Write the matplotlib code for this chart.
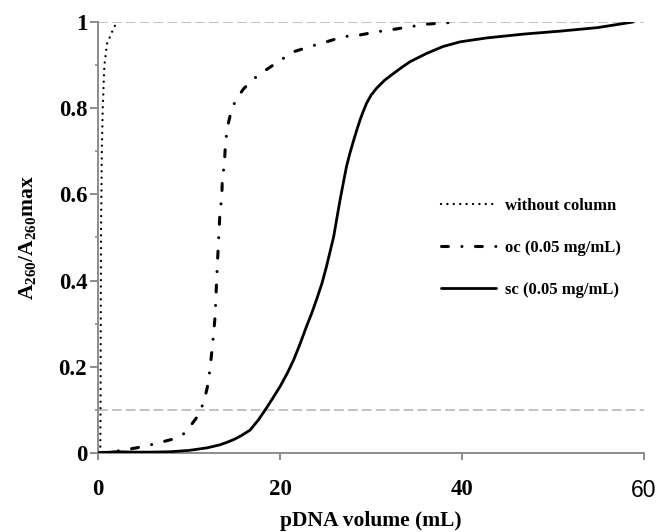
import numpy as np
import matplotlib
matplotlib.use("Agg")
import matplotlib.pyplot as plt
from matplotlib.ticker import MultipleLocator

plt.rcParams['font.family'] = ['Liberation Serif', 'DejaVu Serif']
plt.rcParams['font.weight'] = 'bold'
plt.rcParams['mathtext.fontset'] = 'custom'
plt.rcParams['mathtext.rm'] = 'Liberation Serif:bold'
plt.rcParams['mathtext.it'] = 'Liberation Serif:bold:italic'
plt.rcParams['mathtext.bf'] = 'Liberation Serif:bold'
plt.rcParams['lines.scale_dashes'] = False

# without column (dotted)
nocol_x = [0.25, 0.28, 0.33, 0.42, 0.52, 0.7, 1.0, 1.5, 2.05]
nocol_y = [0.0, 0.12, 0.51, 0.7, 0.8, 0.9, 0.95, 0.975, 1.0]

# oc (0.05 mg/mL) dash-dot
oc_x = [0, 2.0, 4.25, 6.0, 8.2, 9.56, 10.8, 11.2, 11.6, 12.0, 12.3, 12.5, 12.7, 12.86,
        13.1, 13.4, 13.6, 13.66, 13.9, 14.0, 14.2, 14.6, 15.0, 15.5, 16.0, 16.7, 17.4,
        18.2, 19.8, 21.5, 23.3, 25.1, 27.0, 28.8, 30.6, 32.5, 34.3, 36.1, 38.3, 39.5]
oc_y = [0, 0.004, 0.012, 0.02, 0.032, 0.046, 0.081, 0.098, 0.116, 0.151, 0.193, 0.234,
        0.274, 0.316, 0.43, 0.557, 0.594, 0.633, 0.675, 0.715, 0.754, 0.79, 0.812, 0.83,
        0.845, 0.86, 0.873, 0.885, 0.908, 0.931, 0.943, 0.954, 0.966, 0.97, 0.977, 0.983,
        0.989, 0.995, 0.998, 1.0]

# sc (0.05 mg/mL) solid
sc_x = [0, 2, 4, 6, 8, 10, 12, 13.4, 14.2, 15.0, 15.8, 16.7, 17.6, 18.5, 19.2, 20.0,
        20.8, 21.5, 22.2, 22.9, 23.5, 24.0, 24.6, 25.1, 25.5, 25.9, 26.25, 26.6, 26.95,
        27.3, 27.7, 28.1, 28.45, 28.8, 29.1, 29.5, 30.0, 30.6, 31.5, 32.5, 33.4, 34.3,
        36.1, 37.9, 39.8, 42.7, 46.8, 50.9, 54.9, 58.8]
sc_y = [0, 0.003, 0.002, 0.002, 0.003, 0.006, 0.012, 0.019, 0.025, 0.032, 0.041, 0.053,
        0.076, 0.104, 0.127, 0.154, 0.185, 0.216, 0.253, 0.293, 0.325, 0.355, 0.393,
        0.432, 0.467, 0.502, 0.545, 0.587, 0.626, 0.664, 0.697, 0.726, 0.75, 0.773, 0.79,
        0.811, 0.83, 0.846, 0.865, 0.881, 0.895, 0.908, 0.927, 0.943, 0.954, 0.963, 0.972,
        0.979, 0.987, 1.0]

ref_levels = [1.0, 0.1]
xticks = [0, 20, 40, 60]
yticks = [0, 0.2, 0.4, 0.6, 0.8, 1]
ytick_labels = ['0', '0.2', '0.4', '0.6', '0.8', '1']

fig = plt.figure(figsize=(6.56, 5.32), dpi=100)
ax = fig.add_axes([98 / 656, 79 / 532, 546 / 656, 431 / 532])

for lv in ref_levels:
    ax.plot([0, 60], [lv, lv], color='#bdbdbd', lw=1.3, linestyle=(0, (7, 3)), zorder=1)

ax.plot(nocol_x, nocol_y, color='black', lw=1.7, linestyle=(0, (0.01, 4.6)),
        dash_capstyle='round', label='without column', zorder=3)
ax.plot(oc_x, oc_y, color='black', lw=2.2, linestyle=(0, (5, 9.7, 0.01, 9.7)),
        dash_capstyle='round', label='oc (0.05 mg/mL)', zorder=3)
ax.plot(sc_x, sc_y, color='black', lw=2.0, label='sc (0.05 mg/mL)', zorder=3,
        solid_capstyle='round', solid_joinstyle='round')

ax.set_xlim(0, 60)
ax.set_ylim(0, 1)
ax.set_xticks(xticks)
ax.set_yticks(yticks)
ax.set_yticklabels(ytick_labels)
ax.yaxis.set_minor_locator(MultipleLocator(0.1))

for s in ['top', 'right']:
    ax.spines[s].set_visible(False)
for s in ['left', 'bottom']:
    ax.spines[s].set_color('#8c8c8c')
    ax.spines[s].set_linewidth(1.4)

ax.tick_params(axis='y', which='major', length=5.8, width=1.4, color='#8c8c8c',
               labelsize=16.5, pad=2)
ax.tick_params(axis='y', which='minor', length=2.4, width=1.2, color='#8c8c8c')
ax.tick_params(axis='x', which='major', length=5, width=1.4, color='#8c8c8c',
               labelsize=16.5, pad=14)

lbl = ax.get_xticklabels()
lbl[-1].set_fontfamily('Liberation Sans')
lbl[-1].set_fontweight('normal')

ax.set_xlabel('pDNA volume (mL)', fontsize=15.5, fontweight='bold')
ax.set_ylabel(r'A$_{\mathrm{260}}$/A$_{\mathrm{260}}$max', fontsize=15.5, fontweight='bold')
ax.xaxis.set_label_coords(0.5, -0.135)
ax.yaxis.set_label_coords(-0.11, 0.5)

ax.legend(loc='center left', bbox_to_anchor=(441 / 656, 1 - 248 / 532),
          bbox_transform=fig.transFigure, frameon=False, fontsize=12,
          handlelength=3.3, handletextpad=0.55, labelspacing=1.55,
          borderpad=0, borderaxespad=0)

fig.savefig('out.png', dpi=100)
